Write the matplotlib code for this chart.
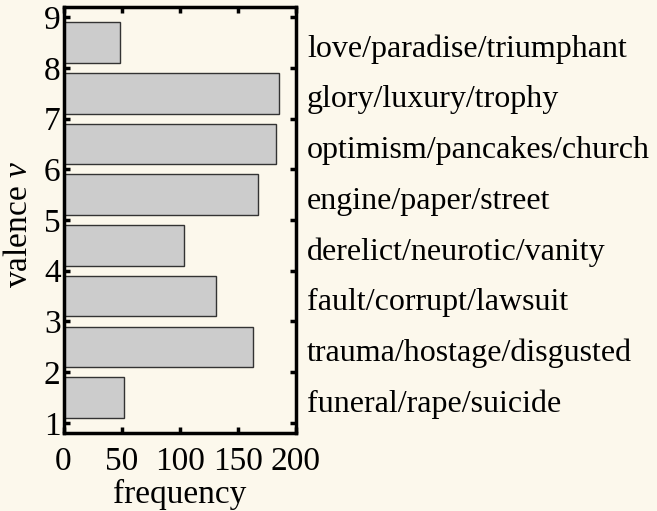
import matplotlib
matplotlib.use("Agg")
import matplotlib.pyplot as plt
import numpy as np

# data
valence_bins = [1, 2, 3, 4, 5, 6, 7, 8]
frequency = [52, 163, 131, 104, 167, 183, 185, 49]
words = ["funeral/rape/suicide", "trauma/hostage/disgusted", "fault/corrupt/lawsuit",
         "derelict/neurotic/vanity", "engine/paper/street", "optimism/pancakes/church",
         "glory/luxury/trophy", "love/paradise/triumphant"]
xticks = [0, 50, 100, 150, 200]
yticks = [1, 2, 3, 4, 5, 6, 7, 8, 9]

bg = "#FCF8EC"
plt.rcParams['font.family'] = ['Liberation Serif', 'DejaVu Serif']
plt.rcParams['mathtext.fontset'] = 'custom'
plt.rcParams['mathtext.it'] = 'Liberation Serif:italic'
plt.rcParams['mathtext.rm'] = 'Liberation Serif'

fig = plt.figure(figsize=(6.57, 5.11), dpi=100, facecolor=bg)
ax = fig.add_axes([63.5/657, 1 - 433/511, (296 - 63.5)/657, (433 - 7)/511])
ax.set_facecolor(bg)

centers = np.array(valence_bins) + 0.5
ax.barh(centers, frequency, height=0.8, color="#CCCCCC", edgecolor="#333333", linewidth=1.0)

ax.set_xlim(0, 200)
ax.set_ylim(0.8, 9.2)
ax.set_xticks(xticks)
ax.set_yticks(yticks)
ax.tick_params(direction='in', top=True, right=True, length=4, width=2.5,
               labelsize=24, colors='black')
ax.tick_params(axis='x', pad=10)
ax.tick_params(axis='y', pad=2)
for s in ax.spines.values():
    s.set_linewidth(2.5)

ax.set_xlabel("frequency", fontsize=24, labelpad=1)
ax.set_ylabel(r"valence $v$", fontsize=24)
ax.yaxis.set_label_coords(-0.128, 0.49)

for c, w in zip(centers, words):
    ax.text(209.5, c - 0.13, w, fontsize=23, va='center', ha='left', clip_on=False)

fig.savefig("out.png", dpi=100, facecolor=bg)
